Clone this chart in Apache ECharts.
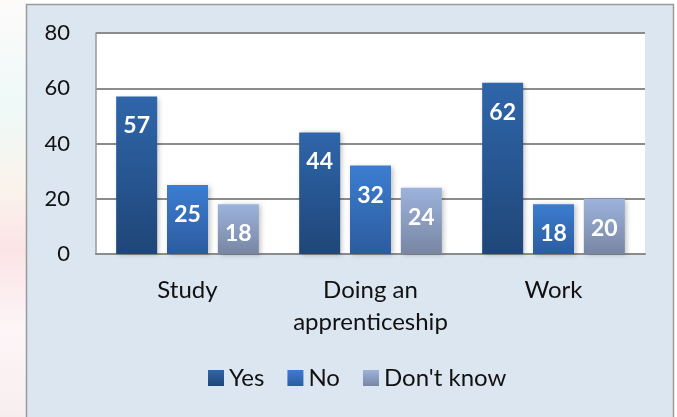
<!DOCTYPE html>
<html><head><meta charset="utf-8">
<script src="https://cdn.jsdelivr.net/npm/echarts@6/dist/echarts.min.js"></script>
<style>html,body{margin:0;padding:0;background:#fff;}#c{width:677px;height:417px;}</style>
</head><body><div id="c"></div>
<script>
const categories = ['Study', 'Doing an\napprenticeship', 'Work'];
const yesValues = [57, 44, 62];
const noValues = [25, 32, 18];
const dontKnowValues = [18, 24, 20];
const seriesNames = ['Yes', 'No', "Don't know"];
const yTicks = { min: 0, max: 80, interval: 20 };

const FONT = 'Lato, "Open Sans", sans-serif';
function grad(top, bottom) {
  return new echarts.graphic.LinearGradient(0, 0, 0, 1, [{offset: 0, color: top}, {offset: 1, color: bottom}]);
}
const fills = [grad('#2f66aa', '#1f4678'), grad('#3c7dd0', '#2c5c9f'), grad('#9db3dc', '#7886a3')];
const values = [yesValues, noValues, dontKnowValues];

const chart = echarts.init(document.getElementById('c'), null, {renderer: 'canvas'});
chart.setOption({
  animation: false,
  backgroundColor: 'transparent',
  graphic: [
    {type: 'rect', z: -10, shape: {x: 0, y: 0, width: 26, height: 417},
     style: {fill: new echarts.graphic.LinearGradient(0, 0, 0, 1, [
       {offset: 0, color: '#fdfafa'}, {offset: 0.25, color: '#eefaf8'}, {offset: 0.45, color: '#fbf3ec'},
       {offset: 0.6, color: '#fbe4e6'}, {offset: 0.8, color: '#fdf6f8'}, {offset: 1, color: '#f6eeee'}])}},
    {type: 'rect', z: -9, shape: {x: 26.5, y: 4.5, width: 647, height: 420},
     style: {fill: '#dce6f1', stroke: '#9a9a9a', lineWidth: 1.5}}
  ],
  grid: {left: 96, right: 32, top: 33, bottom: 163, show: true, backgroundColor: '#ffffff', borderWidth: 0, containLabel: false},
  legend: {
    data: seriesNames.map((n, i) => ({name: n, itemStyle: {color: fills[i]}})),
    top: 361, left: 203, itemWidth: 16, itemHeight: 16, itemGap: 23,
    icon: 'rect',
    textStyle: {fontFamily: FONT, fontSize: 24, color: '#111', padding: [0, 0, 0, 0]}
  },
  xAxis: {
    type: 'category', data: categories,
    axisLine: {show: true, lineStyle: {color: '#8c8c8c', width: 2}},
    axisTick: {show: false},
    axisLabel: {interval: 0, fontFamily: FONT, fontSize: 24, color: '#111', margin: 20, lineHeight: 32}
  },
  yAxis: {
    type: 'value', min: yTicks.min, max: yTicks.max, interval: yTicks.interval,
    axisLine: {show: true, lineStyle: {color: '#9a9a9a', width: 1.5}},
    axisTick: {show: false},
    splitLine: {lineStyle: {color: '#8c8c8c', width: 2}},
    axisLabel: {fontFamily: FONT, fontSize: 22, color: '#111', margin: 26}
  },
  series: seriesNames.map((n, i) => ({
    name: n, type: 'bar', data: values[i],
    barWidth: 41, barGap: '24%',
    itemStyle: {color: fills[i], shadowBlur: 5, shadowOffsetX: 2, shadowOffsetY: 1, shadowColor: 'rgba(0,0,0,0.25)'},
    label: {show: true, position: 'insideTop', distance: 18, color: '#fff', fontFamily: FONT, fontWeight: 'bold', fontSize: 23}
  }))
});
</script></body></html>
